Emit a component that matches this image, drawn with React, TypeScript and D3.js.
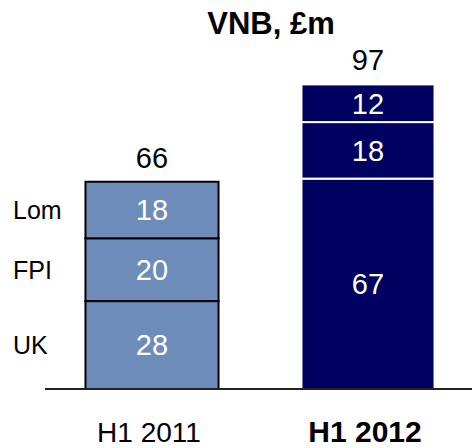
import { useEffect, useRef } from "react";
import * as d3 from "d3";

const categories = ["H1 2011", "H1 2012"];
const segments = ["UK", "FPI", "Lom"];
const values2011 = [28, 20, 18];
const values2012 = [67, 18, 12];
const totals = [66, 97];

function App() {
  const svgRef = useRef<SVGSVGElement>(null);

  useEffect(() => {
    const svgElement = svgRef.current;
    if (!svgElement) return;
    document.body.style.margin = "0";

    const width = 472;
    const height = 448;
    const font = "'Liberation Sans', Arial, sans-serif";

    const svg = d3.select(svgElement).attr("width", width).attr("height", height);

    const xScale = d3
      .scaleBand()
      .domain(categories)
      .range([44, 476])
      .paddingInner(0.384)
      .paddingOuter(0.192);

    const yScale = d3.scaleLinear().domain([0, 97]).range([389, 84.4]);

    const series = [values2011, values2012];
    const fills = ["#6d8cba", "#000060"];
    const strokes = ["#000", "#fff"];

    series.forEach((vals, i) => {
      const cat = categories[i];
      const x0 = xScale(cat) || 0;
      let acc = 0;
      const stacked = vals.map((v, j) => {
        const d = { seg: segments[j], v, y0: acc, y1: acc + v };
        acc += v;
        return d;
      });

      const g = svg.append("g");
      g.selectAll("rect")
        .data(stacked)
        .enter()
        .append("rect")
        .attr("x", x0)
        .attr("y", (d) => yScale(d.y1))
        .attr("width", xScale.bandwidth())
        .attr("height", (d) => yScale(d.y0) - yScale(d.y1))
        .attr("fill", fills[i])
        .attr("stroke", strokes[i])
        .attr("stroke-width", 2);

      g.selectAll("text")
        .data(stacked)
        .enter()
        .append("text")
        .attr("x", x0 + xScale.bandwidth() / 2)
        .attr("y", (d) => (yScale(d.y0) + yScale(d.y1)) / 2)
        .attr("dy", "0.36em")
        .attr("text-anchor", "middle")
        .style("font-family", font)
        .style("font-size", "29px")
        .style("fill", "#fff")
        .text((d) => d.v);

      // total above bar
      svg
        .append("text")
        .attr("x", x0 + xScale.bandwidth() / 2)
        .attr("y", yScale(totals[i]) - 14)
        .attr("text-anchor", "middle")
        .style("font-family", font)
        .style("font-size", "29px")
        .style("fill", "#000")
        .text(totals[i]);

      // segment labels on the left of the first bar
      if (i === 0) {
        svg
          .selectAll(".seg-label")
          .data(stacked)
          .enter()
          .append("text")
          .attr("class", "seg-label")
          .attr("x", 13)
          .attr("y", (d) => (yScale(d.y0) + yScale(d.y1)) / 2)
          .attr("dy", "0.36em")
          .style("font-family", font)
          .style("font-size", "25px")
          .style("fill", "#000")
          .text((d) => d.seg);
      }
    });

    // baseline
    svg
      .append("line")
      .attr("x1", 45)
      .attr("x2", width)
      .attr("y1", yScale(0))
      .attr("y2", yScale(0))
      .attr("stroke", "#222")
      .attr("stroke-width", 2);

    // category labels
    svg
      .selectAll(".cat")
      .data(categories)
      .enter()
      .append("text")
      .attr("class", "cat")
      .attr("x", (d) => (xScale(d) || 0) + xScale.bandwidth() / 2 - 3)
      .attr("y", 442)
      .attr("text-anchor", "middle")
      .style("font-family", font)
      .style("font-size", (d, i) => (i === 1 ? "30px" : "28px"))
      .style("font-weight", (d, i) => (i === 1 ? "bold" : "normal"))
      .style("fill", "#000")
      .text((d) => d);

    // title
    svg
      .append("text")
      .attr("x", 271)
      .attr("y", 34)
      .attr("text-anchor", "middle")
      .style("font-family", font)
      .style("font-size", "31px")
      .style("font-weight", "bold")
      .style("fill", "#000")
      .text("VNB, £m");

    return () => {
      d3.select(svgElement).selectAll("*").remove();
    };
  }, []);

  return <svg ref={svgRef}></svg>;
}

export default App;
